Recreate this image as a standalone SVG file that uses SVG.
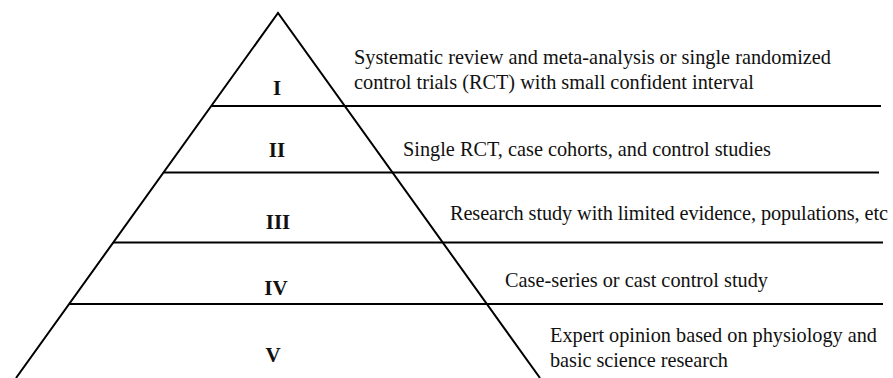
<svg xmlns="http://www.w3.org/2000/svg" width="893" height="378" viewBox="0 0 893 378">
<style>
.ln{stroke:#000;stroke-width:2;fill:none}
.num{font-family:"Liberation Serif","Times New Roman",serif;font-weight:bold;font-size:21px;text-anchor:middle;fill:#111}
.desc{font-family:"Liberation Serif","Times New Roman",serif;font-size:20.3px;fill:#111}
</style>
<rect width="893" height="378" fill="#fff"/>
<g id="connectors">
<path class="ln" d="M16,378 L278,13 L540,378"/>
<line class="ln" x1="212" y1="106" x2="881" y2="106"/>
<line class="ln" x1="164" y1="172.5" x2="879" y2="172.5"/>
<line class="ln" x1="113" y1="242.5" x2="883" y2="242.5"/>
<line class="ln" x1="69" y1="304" x2="883" y2="304"/>
</g>
<g id="level1"><text class="num" x="277" y="95">I</text>
<text class="desc" x="354" y="63.5" textLength="477">Systematic review and meta-analysis or single randomized</text>
<text class="desc" x="354" y="89" textLength="400">control trials (RCT) with small confident interval</text></g>
<g id="level2"><text class="num" x="277" y="157">II</text>
<text class="desc" x="403" y="156" textLength="368">Single RCT, case cohorts, and control studies</text></g>
<g id="level3"><text class="num" x="278" y="229">III</text>
<text class="desc" x="450" y="219.5" textLength="438">Research study with limited evidence, populations, etc</text></g>
<g id="level4"><text class="num" x="276" y="295">IV</text>
<text class="desc" x="505" y="287" textLength="263">Case-series or cast control study</text></g>
<g id="level5"><text class="num" x="273" y="362">V</text>
<text class="desc" x="550" y="342" textLength="327">Expert opinion based on physiology and</text>
<text class="desc" x="550" y="367" textLength="178">basic science research</text></g>
</svg>
